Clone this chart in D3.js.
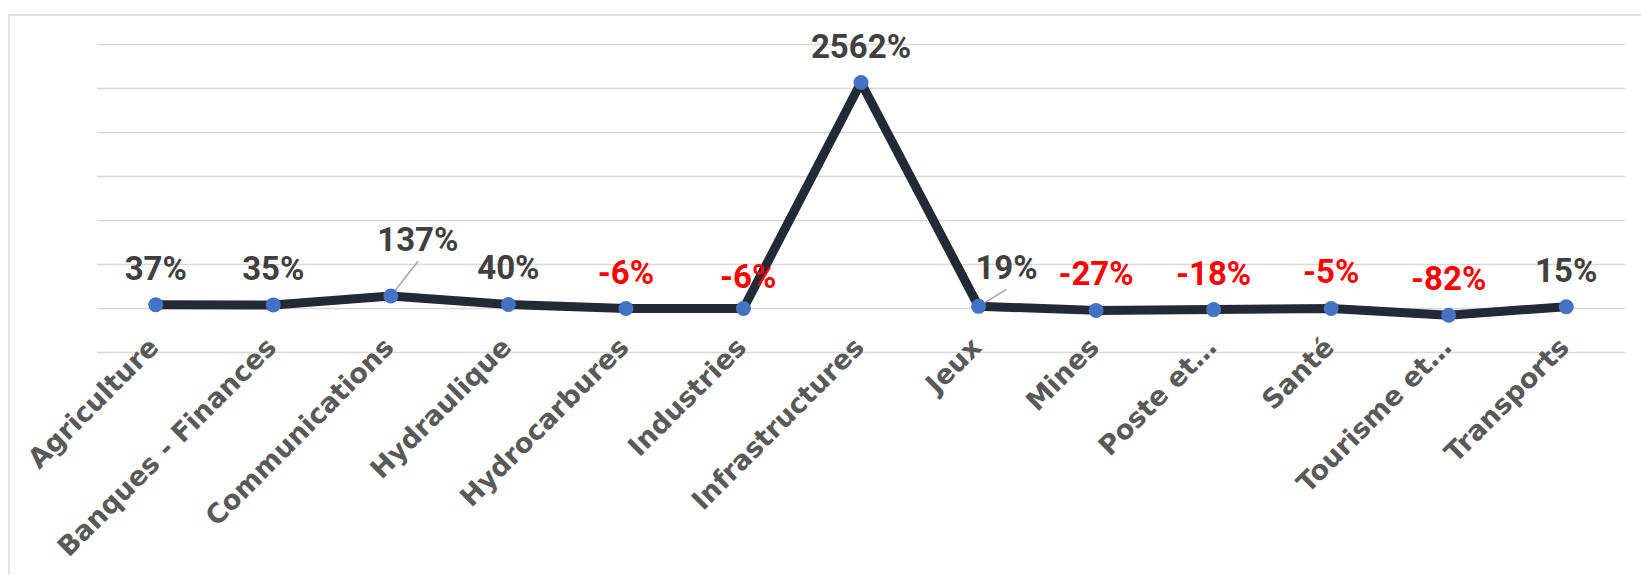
<!DOCTYPE html>
<html>
<head>
<meta charset="utf-8">
<script src="https://cdn.jsdelivr.net/npm/d3@7"></script>
<style>
  html, body { margin: 0; padding: 0; background: #ffffff; }
  svg { display: block; }
</style>
</head>
<body>
<svg id="chart" width="1641" height="575"></svg>
<script>
// ---- Data ----
const categories = ["Agriculture", "Banques - Finances", "Communications", "Hydraulique",
  "Hydrocarbures", "Industries", "Infrastructures", "Jeux", "Mines", "Poste et…",
  "Santé", "Tourisme et…", "Transports"];
const values = [37, 35, 137, 40, -6, -6, 2562, 19, -27, -18, -5, -82, 15];
const valueLabels = ["37%", "35%", "137%", "40%", "-6%", "-6%", "2562%", "19%", "-27%", "-18%", "-5%", "-82%", "15%"];
const yTicks = [-500, 0, 500, 1000, 1500, 2000, 2500, 3000];

// ---- Layout / style ----
const svg = d3.select("#chart");
const plot = { left: 97, right: 1625, top: 44, bottom: 352 };
const labelNudge = { "Communications": [27, -20, true], "Jeux": [28, -2.5, true], "Industries": [4.7, 4, false] };

// frame
svg.append("rect")
  .attr("x", 9).attr("y", 15).attr("width", 1645).attr("height", 580)
  .attr("fill", "none").attr("stroke", "#d9d9d9").attr("stroke-width", 1.5);

const x = d3.scalePoint().domain(categories).range([plot.left, plot.right]).padding(0.5);
const y = d3.scaleLinear().domain([-500, 3000]).range([plot.bottom, plot.top]);

// gridlines via axis
const gy = svg.append("g")
  .attr("transform", `translate(${plot.left},0)`)
  .call(d3.axisLeft(y).tickValues(yTicks).tickSize(-(plot.right - plot.left)).tickFormat(""));
gy.select(".domain").remove();
gy.selectAll(".tick line").attr("stroke", "#d9d9d9").attr("stroke-width", 1.5);

// x axis labels
const gx = svg.append("g")
  .attr("transform", `translate(0,${plot.bottom})`)
  .call(d3.axisBottom(x).tickSize(0).tickPadding(0));
gx.select(".domain").remove();
gx.selectAll(".tick text")
  .attr("font-family", "'DejaVu Sans', sans-serif")
  .attr("font-weight", "bold")
  .attr("font-size", 27)
  .attr("fill", "#595959")
  .attr("text-anchor", "end")
  .attr("dy", 0)
  .attr("y", 0)
  .attr("transform", "translate(4,-3) rotate(-45)");

const data = categories.map((c, i) => ({ c, v: values[i], label: valueLabels[i] }));

// line
const line = d3.line().x(d => x(d.c)).y(d => y(d.v));
svg.append("path")
  .datum(data)
  .attr("d", line)
  .attr("fill", "none")
  .attr("stroke", "#222a35")
  .attr("stroke-width", 9)
  .attr("stroke-linejoin", "round")
  .attr("stroke-linecap", "butt");

// leader lines
data.forEach(d => {
  const n = labelNudge[d.c];
  if (n && n[2]) {
    const lx = x(d.c) + n[0];
    const ly = y(d.v) - 25 + n[1] + 10.5;
    svg.append("line")
      .attr("x1", x(d.c)).attr("y1", y(d.v))
      .attr("x2", lx).attr("y2", ly)
      .attr("stroke", "#a6a6a6").attr("stroke-width", 1.5);
  }
});

// markers
svg.append("g").selectAll("circle")
  .data(data).join("circle")
  .attr("cx", d => x(d.c))
  .attr("cy", d => y(d.v))
  .attr("r", 7.5)
  .attr("fill", "#4472c4");

// data labels
svg.append("g").selectAll("text")
  .data(data).join("text")
  .attr("x", d => x(d.c) + (labelNudge[d.c] ? labelNudge[d.c][0] : 0))
  .attr("y", d => y(d.v) - 25 + (labelNudge[d.c] ? labelNudge[d.c][1] : 0))
  .attr("text-anchor", "middle")
  .attr("font-family", "Roboto, sans-serif")
  .attr("font-weight", "bold")
  .attr("font-size", 33)
  .attr("fill", d => d.v < 0 ? "#ff0000" : "#404040")
  .text(d => d.label);
</script>
</body>
</html>
